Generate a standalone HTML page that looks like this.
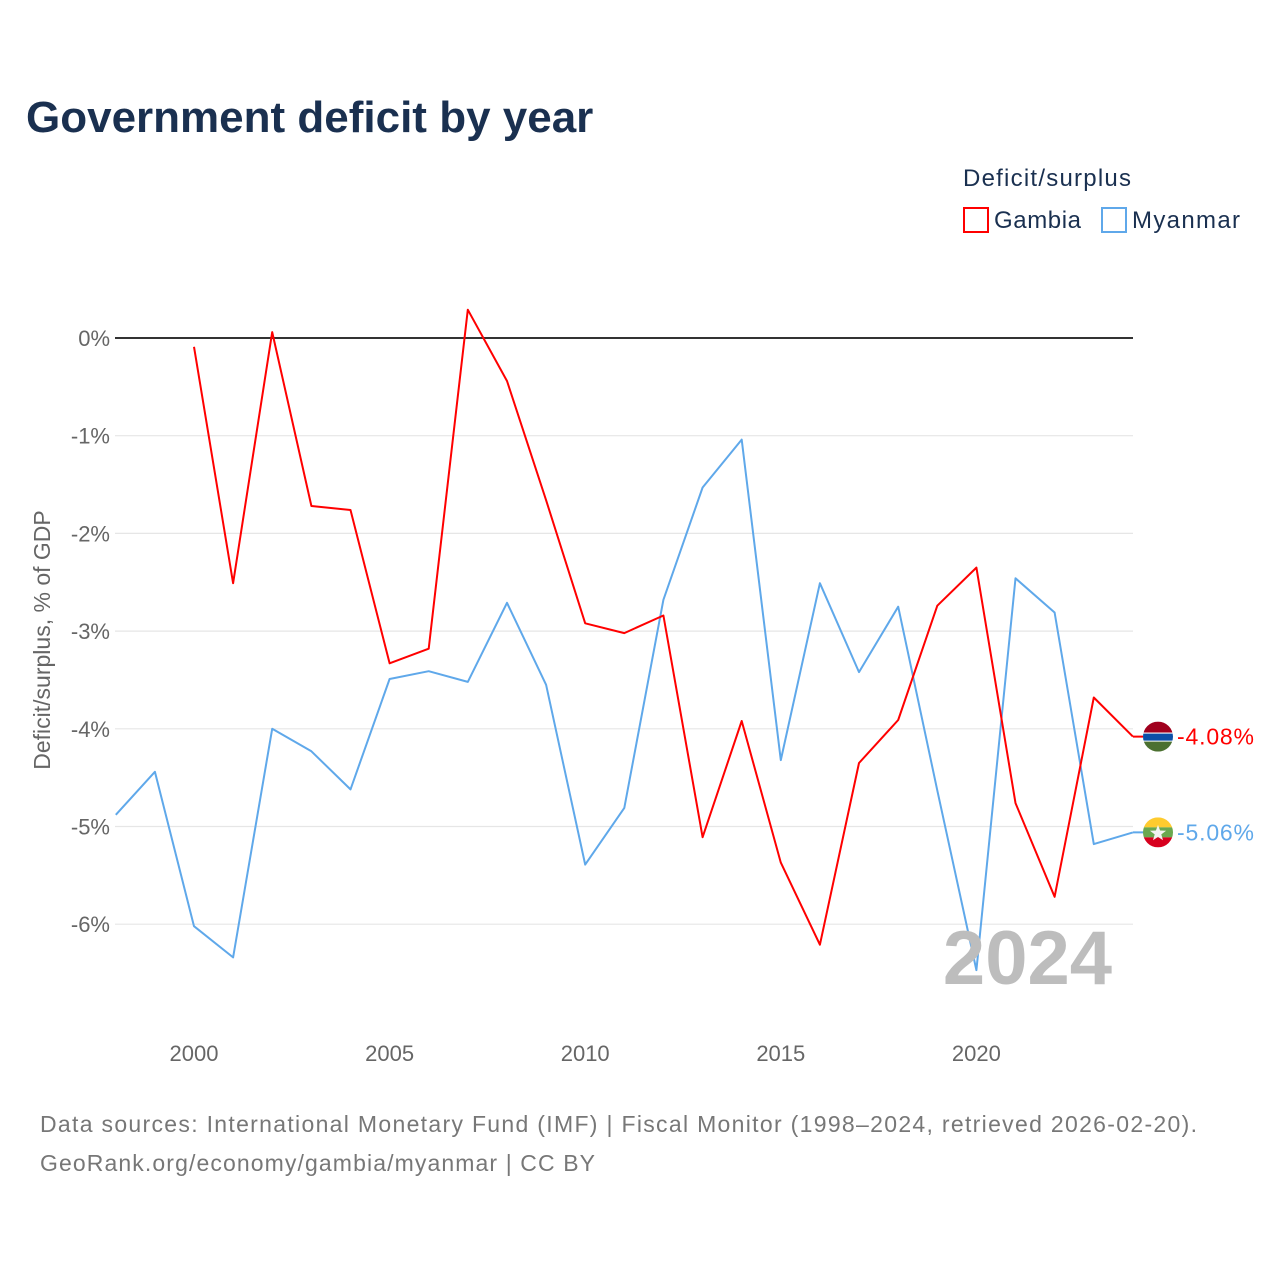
<!DOCTYPE html>
<html><head><meta charset="utf-8">
<style>
html,body{margin:0;padding:0;background:#fff;}
body{width:1280px;height:1280px;position:relative;overflow:hidden;font-family:"Liberation Sans",sans-serif;}
</style></head>
<body>
<svg id="chart" width="1280" height="1280" xmlns="http://www.w3.org/2000/svg" font-family="Liberation Sans, sans-serif">
<text x="26" y="132" font-size="44" font-weight="bold" fill="#1a3050">Government deficit by year</text>
<text x="963" y="186" font-size="24" fill="#1a3050" textLength="168">Deficit/surplus</text>
<g>
<rect x="964" y="208" width="24" height="24" fill="none" stroke="#ff0000" stroke-width="2"/>
<text x="994" y="228" font-size="24" fill="#1a3050" textLength="87">Gambia</text></g>
<g>
<rect x="1102" y="208" width="24" height="24" fill="none" stroke="#5fa8ea" stroke-width="2"/>
<text x="1132" y="228" font-size="24" fill="#1a3050" textLength="108">Myanmar</text></g>
<g id="grid"></g>
<g id="series"></g>
<text x="1112" y="984" font-size="76" font-weight="bold" fill="#bdbdbd" text-anchor="end">2024</text>
<text transform="translate(50,640) rotate(-90)" font-size="23" fill="#666" text-anchor="middle">Deficit/surplus, % of GDP</text>
<text x="40" y="1132" font-size="23" fill="#777" textLength="1157">Data sources: International Monetary Fund (IMF) | Fiscal Monitor (1998–2024, retrieved 2026-02-20).</text>
<text x="40" y="1171" font-size="23" fill="#777" textLength="555">GeoRank.org/economy/gambia/myanmar | CC BY</text>
</svg>
<script>
const years=[1998,1999,2000,2001,2002,2003,2004,2005,2006,2007,2008,2009,2010,2011,2012,2013,2014,2015,2016,2017,2018,2019,2020,2021,2022,2023,2024];
const gambia=[null,null,-0.09,-2.51,0.06,-1.72,-1.76,-3.33,-3.18,0.29,-0.44,-1.66,-2.92,-3.02,-2.84,-5.11,-3.92,-5.37,-6.21,-4.35,-3.91,-2.74,-2.35,-4.76,-5.72,-3.68,-4.08];
const myanmar=[-4.88,-4.44,-6.02,-6.34,-4.00,-4.23,-4.62,-3.49,-3.41,-3.52,-2.71,-3.55,-5.39,-4.81,-2.68,-1.53,-1.04,-4.32,-2.51,-3.42,-2.75,-4.63,-6.47,-2.46,-2.81,-5.18,-5.06];
const yTicks=[0,-1,-2,-3,-4,-5,-6];
const xTicks=[2000,2005,2010,2015,2020];
const NS="http://www.w3.org/2000/svg";
const x=v=>194+(v-2000)*39.12;
const y=v=>338-v*97.7;
const grid=document.getElementById('grid'),ser=document.getElementById('series');
function mk(tag,attrs,parent){const e=document.createElementNS(NS,tag);for(const k in attrs)e.setAttribute(k,attrs[k]);parent.appendChild(e);return e;}
yTicks.forEach(t=>{
  const l=mk('line',{x1:115,x2:1133,y1:y(t),y2:y(t),stroke:t===0?'#333':'#e6e6e6','stroke-width':t===0?2:1.2},grid);
  
  
  const tx=mk('text',{x:110,y:y(t)+8,'font-size':22,fill:'#666','text-anchor':'end'},grid);
  tx.textContent=t+'%';
  
  
});
xTicks.forEach(t=>{
  const tx=mk('text',{x:x(t),y:1061,'font-size':22,fill:'#666','text-anchor':'middle'},grid);
  tx.textContent=t;
  
  
});
function line(vals,color,name){
  const pts=[];vals.forEach((v,i)=>{if(v!==null)pts.push(x(years[i]).toFixed(1)+','+y(v).toFixed(1));});
  const p=mk('polyline',{points:pts.join(' '),fill:'none',stroke:color,'stroke-width':2,'stroke-linejoin':'round'},ser);
  
  
}
line(myanmar,'#5fa8ea','myanmar-line');
line(gambia,'#ff0000','gambia-line');
function endLabel(v,color,name,flag){
  const cy=y(v),cx=1158;
  mk('line',{x1:1133,x2:1145,y1:cy,y2:cy,stroke:color,'stroke-width':2},ser);
  const g=mk('g',{},ser);
  
  
  const cid='c'+name;
  const cp=mk('clipPath',{id:cid},g);mk('circle',{cx:cx,cy:cy,r:15},cp);
  const gg=mk('g',{'clip-path':'url(#'+cid+')'},g);
  flag(gg,cx,cy);
  const t=mk('text',{x:1177,y:cy+8,'font-size':23,fill:color,textLength:77},ser);
  t.textContent=v.toFixed(2)+'%';
  
  
}
endLabel(gambia[gambia.length-1],'#ff0000','gambia',(g,cx,cy)=>{
  mk('rect',{x:cx-15,y:cy-15,width:30,height:11,fill:'#a0001e'},g);
  mk('rect',{x:cx-15,y:cy-4,width:30,height:9,fill:'#fff'},g);
  mk('rect',{x:cx-15,y:cy-3,width:30,height:7,fill:'#0b4fa8'},g);
  mk('rect',{x:cx-15,y:cy+5,width:30,height:10,fill:'#4b7030'},g);
});
endLabel(myanmar[myanmar.length-1],'#5fa8ea','myanmar',(g,cx,cy)=>{
  mk('rect',{x:cx-15,y:cy-15,width:30,height:10,fill:'#fecb2f'},g);
  mk('rect',{x:cx-15,y:cy-5,width:30,height:10,fill:'#6aa84f'},g);
  mk('rect',{x:cx-15,y:cy+5,width:30,height:10,fill:'#d7001e'},g);
  const pts=[];for(let i=0;i<10;i++){const r=i%2?3.5:8.5,a=-Math.PI/2+i*Math.PI/5;pts.push((cx+r*Math.cos(a)).toFixed(1)+','+(cy+1+r*Math.sin(a)).toFixed(1));}
  mk('polygon',{points:pts.join(' '),fill:'#f2f2f2'},g);
});
</script>
</body></html>
